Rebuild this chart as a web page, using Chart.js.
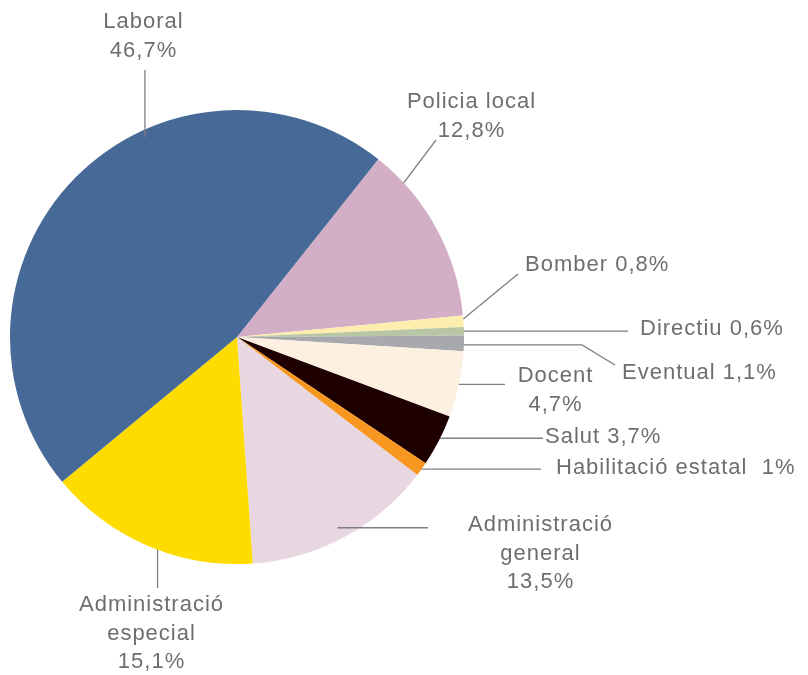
<!DOCTYPE html>
<html>
<head>
<meta charset="utf-8">
<script src="https://cdn.jsdelivr.net/npm/chart.js@4/dist/chart.umd.min.js"></script>
<style>
  html, body { margin: 0; padding: 0; background: #fff; }
  #wrap { width: 808px; height: 675px; position: relative; }
</style>
</head>
<body>
<div id="wrap"><canvas id="grafico"></canvas></div>
<script>
// dades (ordre horari a partir de Policia local)
var categories = ['Policia local', 'Bomber', 'Directiu', 'Eventual', 'Docent', 'Salut',
  'Habilitació estatal', 'Administració general', 'Administració especial', 'Laboral'];
var percentatges = [12.8, 0.8, 0.6, 1.1, 4.7, 3.7, 1, 13.5, 15.1, 46.7];
var textPercent = ['12,8%', '0,8%', '0,6%', '1,1%', '4,7%', '3,7%', '1%', '13,5%', '15,1%', '46,7%'];
var colors = ['#d2afc6', '#fdeeae', '#b8c6a6', '#a7a9ac', '#fdf0e1', '#1e0000',
  '#f7971f', '#e8d6e0', '#fedc00', '#466997'];

// posicio de les etiquetes (frac = punt dins la llesca on surt la linia)
var etiquetes = [
  { frac: 0.19, r: 1, passos: [{ to: [436, 140] }], text: ['Policia local', '12,8%'], x: 471, y: 102, align: 'center' },
  { frac: 0.3, r: 1, passos: [{ to: [518, 274] }], text: ['Bomber 0,8%'], x: 525, y: 265, align: 'left' },
  { frac: 0.5, r: 1, passos: [{ h: 628 }], text: ['Directiu 0,6%'], x: 640, y: 329, align: 'left' },
  { frac: 0.6, r: 1, passos: [{ h: 582 }, { to: [615, 365] }], text: ['Eventual 1,1%'], x: 622, y: 373, align: 'left' },
  { frac: 0.5, r: 1, passos: [{ h: 505 }], text: ['Docent', '4,7%'], x: 555, y: 376, align: 'center' },
  { frac: 0.45, r: 1, passos: [{ h: 543 }], text: ['Salut 3,7%'], x: 545, y: 437, align: 'left' },
  { frac: 0.5, r: 1, passos: [{ h: 541 }], text: ['Habilitació estatal  1%'], x: 556, y: 468, align: 'left' },
  { frac: 0.51, r: 0.95, passos: [{ h: 428 }], text: ['Administració', 'general', '13,5%'], x: 540, y: 525, align: 'center' },
  { frac: 0.45, r: 1, passos: [{ v: 588 }], text: ['Administració', 'especial', '15,1%'], x: 151, y: 605, align: 'center' },
  { frac: 0.624, r: 0.97, passos: [{ v: 70 }], text: ['Laboral', '46,7%'], x: 143, y: 22, align: 'center' }
];

var pluginEtiquetes = {
  id: 'etiquetes',
  afterDatasetsDraw: function (chart) {
    var ctx = chart.ctx;
    var arcs = chart.getDatasetMeta(0).data;
    ctx.save();
    for (var i = 0; i < etiquetes.length; i++) {
      var e = etiquetes[i];
      var a = arcs[i];
      var ang = a.startAngle + e.frac * (a.endAngle - a.startAngle);
      var x = a.x + Math.cos(ang) * a.outerRadius * e.r;
      var y = a.y + Math.sin(ang) * a.outerRadius * e.r;
      ctx.beginPath();
      ctx.moveTo(x, y);
      for (var j = 0; j < e.passos.length; j++) {
        var p = e.passos[j];
        if (p.h !== undefined) x = p.h;
        else if (p.v !== undefined) y = p.v;
        else { x = p.to[0]; y = p.to[1]; }
        ctx.lineTo(x, y);
      }
      ctx.strokeStyle = '#7f7f82';
      ctx.lineWidth = 1.3;
      ctx.stroke();

      ctx.fillStyle = '#6d6e71';
      ctx.font = '22px "Liberation Sans", Arial, sans-serif';
      ctx.letterSpacing = '1px';
      ctx.textAlign = e.align;
      ctx.textBaseline = 'middle';
      for (var k = 0; k < e.text.length; k++) {
        // el letterSpacing afegeix espai al final; es compensa en centrar
        var dx = e.align === 'center' ? 0.5 : 0;
        ctx.fillText(e.text[k], e.x + dx, e.y + k * 28.5);
      }
    }
    ctx.restore();
  }
};

var config = {
  type: 'pie',
  data: {
    labels: categories,
    datasets: [{
      data: percentatges,
      backgroundColor: colors,
      borderWidth: 0
    }]
  },
  options: {
    responsive: true,
    maintainAspectRatio: false,
    animation: false,
    rotation: 38.5,
    layout: { padding: { left: 10, top: 110, right: 344, bottom: 111 } },
    plugins: {
      legend: { display: false },
      tooltip: { enabled: false }
    }
  },
  plugins: [pluginEtiquetes]
};

var grafic = new Chart(document.getElementById('grafico'), config);
</script>
</body>
</html>
